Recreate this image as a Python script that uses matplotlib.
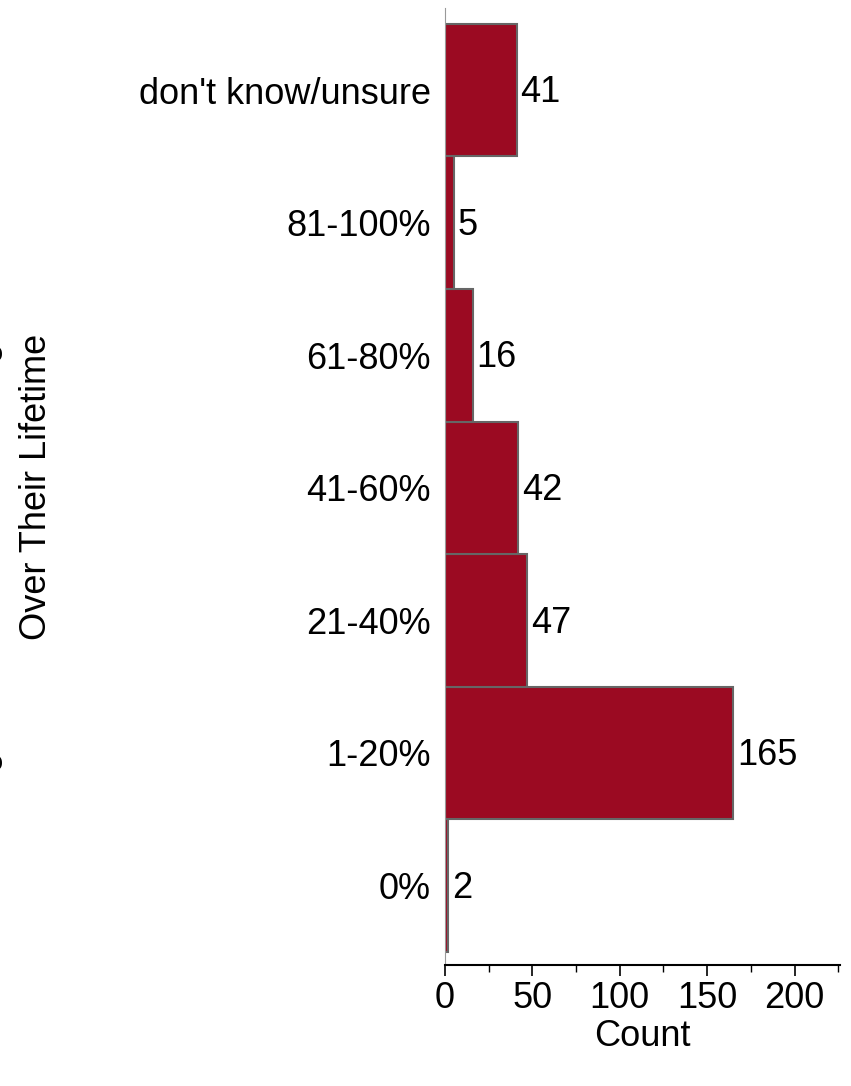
import matplotlib
matplotlib.use("Agg")
import matplotlib.pyplot as plt
from matplotlib.ticker import MultipleLocator

categories = ["0%", "1-20%", "21-40%", "41-60%", "61-80%", "81-100%", "don't know/unsure"]
counts = [2, 165, 47, 42, 16, 5, 41]

plt.rcParams["font.family"] = ["Liberation Sans", "DejaVu Sans"]
FS = 26

fig = plt.figure(figsize=(8.51, 10.86), dpi=100)
ax = fig.add_axes([445 / 851, 1 - 965 / 1086, 395 / 851, 957 / 1086])

ypos = range(len(categories))
ax.barh(ypos, counts, height=1.0, color="#9b0a22", edgecolor="#666666", linewidth=1.5)
for y, v in zip(ypos, counts):
    ax.text(v + 2, y - 0.02, str(v), va="center", ha="left", fontsize=FS)

ax.set_yticks(list(ypos))
ax.set_yticklabels(categories, fontsize=FS)
ax.set_xlim(0, 226)
ax.set_ylim(-0.6, 6.62)
ax.xaxis.set_major_locator(MultipleLocator(50))
ax.xaxis.set_minor_locator(MultipleLocator(25))
ax.tick_params(axis="x", labelsize=FS, length=8, width=1.2)
ax.tick_params(axis="x", which="minor", length=5, width=1)
ax.tick_params(axis="y", length=0, pad=10)
for s in ("top", "right"):
    ax.spines[s].set_visible(False)
ax.spines["left"].set_color("#999999")
ax.spines["bottom"].set_linewidth(1.5)

ax.set_xlabel("Count", fontsize=FS, labelpad=2)
ax.set_ylabel("Percentage of Canine Patients Diagnosed with CCDS\nOver Their Lifetime",
              fontsize=FS, linespacing=1.6)
ax.yaxis.set_label_coords(-0.99, 0.5)

fig.savefig("out.png", dpi=100)
